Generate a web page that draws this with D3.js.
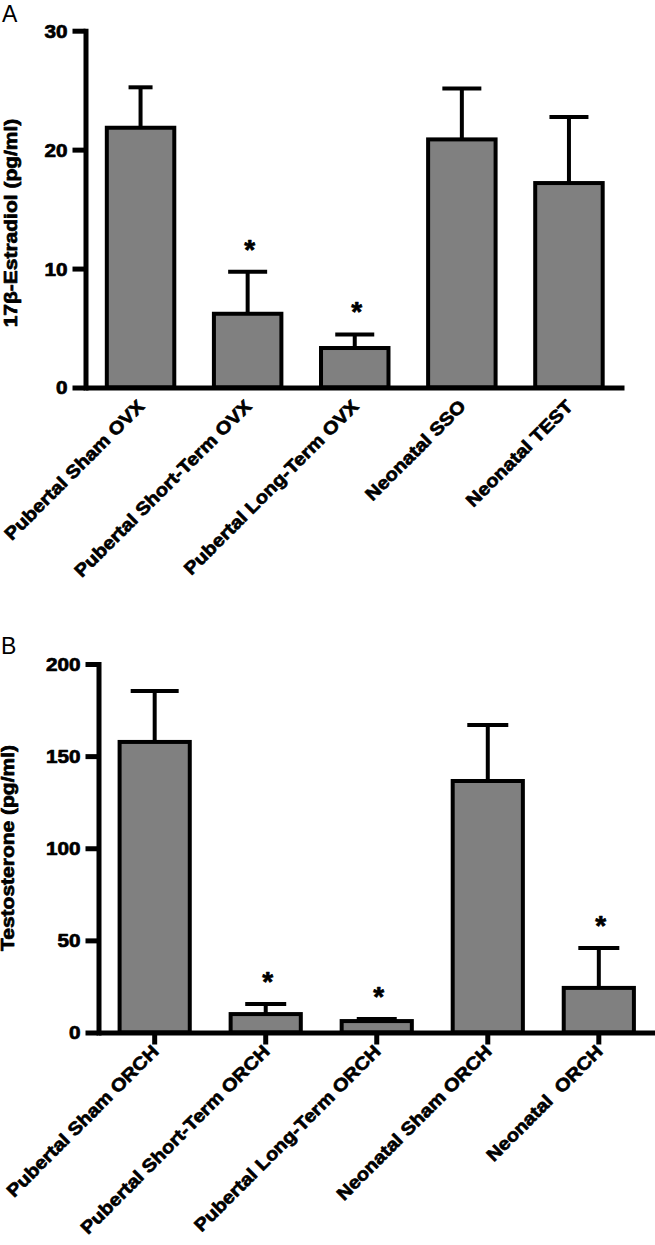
<!DOCTYPE html>
<html>
<head>
<meta charset="utf-8">
<script src="https://cdn.jsdelivr.net/npm/d3@7"></script>
<style>
  html, body { margin: 0; padding: 0; background: #fff; }
  svg { display: block; }
  text { font-family: "Liberation Sans", Arial, Helvetica, sans-serif; }
</style>
</head>
<body>
<svg id="chart" width="655" height="1245"></svg>
<script>
// ---------- Data ----------
const categoriesA = ["Pubertal Sham OVX", "Pubertal Short-Term OVX", "Pubertal Long-Term OVX", "Neonatal SSO", "Neonatal TEST"];
const meansA = [21.84, 6.2, 3.32, 20.86, 17.19];
const errorsA = [3.4, 3.53, 1.14, 4.29, 5.55];
const significantA = [false, true, true, false, false];
const ticksA = [0, 10, 20, 30];
const titleA = "17β-Estradiol (pg/ml)";

const categoriesB = ["Pubertal Sham ORCH", "Pubertal Short-Term ORCH", "Pubertal Long-Term ORCH", "Neonatal Sham ORCH", "Neonatal  ORCH"];
const meansB = [157.7, 10.0, 6.2, 136.5, 24.2];
const errorsB = [27.6, 5.5, 1.1, 30.4, 21.7];
const significantB = [false, true, true, false, true];
const ticksB = [0, 50, 100, 150, 200];
const titleB = "Testosterone (pg/ml)";

// ---------- Layout / style ----------
const FONT = '"Liberation Sans", Arial, Helvetica, sans-serif';
const panels = [
  {
    letter: "A", letterX: 2, letterY: 22,
    cats: categoriesA, means: meansA, errs: errorsA, sig: significantA, ticks: ticksA, title: titleA,
    yMax: 30, yTopPx: 30.7, yZeroPx: 387.5,
    axisX: 85.5, xEnd: 624, padIn: 0.37, padOut: 0.199,
    xTick: 0, capW: [24, 39, 39, 39, 39],
    titleX: 17, titleY: 223
  },
  {
    letter: "B", letterX: 1, letterY: 654,
    cats: categoriesB, means: meansB, errs: errorsB, sig: significantB, ticks: ticksB, title: titleB,
    yMax: 200, yTopPx: 664, yZeroPx: 1032.5,
    axisX: 98.5, xEnd: 655, padIn: 0.368, padOut: 0.19,
    xTick: 12, capW: [48, 41, 40, 41, 41],
    titleX: 14, titleY: 848
  }
];

const svg = d3.select("#chart");

function heavy(sel, size) {
  sel.attr("font-family", FONT).attr("font-weight", "bold").attr("font-size", size)
    .attr("fill", "#000").attr("stroke", "#000").attr("stroke-width", 0.7)
    .attr("stroke-linejoin", "round");
}

panels.forEach(p => {
  const g = svg.append("g");

  const y = d3.scaleLinear().domain([0, p.yMax]).range([p.yZeroPx, p.yTopPx]);
  const x = d3.scaleBand().domain(p.cats).range([p.axisX, p.xEnd])
    .paddingInner(p.padIn).paddingOuter(p.padOut);

  const data = p.cats.map((c, i) => ({ c, m: p.means[i], e: p.errs[i], s: p.sig[i], cw: p.capW[i] }));

  // bars
  g.selectAll("rect.bar").data(data).enter().append("rect")
    .attr("class", "bar")
    .attr("x", d => x(d.c))
    .attr("width", x.bandwidth())
    .attr("y", d => y(d.m))
    .attr("height", d => y(0) - y(d.m))
    .attr("fill", "#808080")
    .attr("stroke", "#000")
    .attr("stroke-width", 4);

  // error bars (upper only)
  const eb = g.selectAll("g.err").data(data).enter().append("g").attr("class", "err");
  eb.append("line")
    .attr("x1", d => x(d.c) + x.bandwidth() / 2)
    .attr("x2", d => x(d.c) + x.bandwidth() / 2)
    .attr("y1", d => y(d.m))
    .attr("y2", d => y(d.m + d.e))
    .attr("stroke", "#000").attr("stroke-width", 4);
  eb.append("line")
    .attr("x1", d => x(d.c) + x.bandwidth() / 2 - d.cw / 2)
    .attr("x2", d => x(d.c) + x.bandwidth() / 2 + d.cw / 2)
    .attr("y1", d => y(d.m + d.e))
    .attr("y2", d => y(d.m + d.e))
    .attr("stroke", "#000").attr("stroke-width", 4);

  // significance asterisks
  g.selectAll("text.star").data(data.filter(d => d.s)).enter().append("text")
    .attr("class", "star")
    .attr("x", d => x(d.c) + x.bandwidth() / 2 + 2)
    .attr("y", d => y(d.m + d.e) - 13)
    .attr("text-anchor", "middle")
    .call(heavy, 28)
    .text("*");

  // y axis
  const yAxis = d3.axisLeft(y).tickValues(p.ticks).tickFormat(d3.format("d"))
    .tickSize(13).tickSizeOuter(0).tickPadding(0);
  const ya = g.append("g").attr("transform", `translate(${p.axisX},0)`).call(yAxis);
  ya.select(".domain").attr("stroke-width", 5).attr("stroke-linecap", "square");
  ya.selectAll(".tick line").attr("stroke-width", 5);
  ya.selectAll(".tick text")
    .attr("x", 0).attr("dy", "0.36em")
    .attr("transform", "translate(-18,0) scale(1.15,1)")
    .call(heavy, 18);

  // x axis
  const xAxis = d3.axisBottom(x).tickSize(p.xTick).tickSizeOuter(0).tickPadding(0);
  const xa = g.append("g").attr("transform", `translate(0,${p.yZeroPx})`).call(xAxis);
  xa.select(".domain").attr("stroke-width", 5).attr("stroke-linecap", "butt");
  xa.selectAll(".tick line").attr("stroke-width", 5);
  xa.selectAll(".tick text")
    .attr("x", 0).attr("y", 0).attr("dy", 0)
    .attr("text-anchor", "end")
    .attr("transform", "translate(5,20) rotate(-45) scale(1.12,1)")
    .call(heavy, 18)
    .style("white-space", "pre");

  // y title
  g.append("text")
    .attr("transform", `translate(${p.titleX},${p.titleY}) rotate(-90) scale(1.2,1)`)
    .attr("text-anchor", "middle")
    .call(heavy, 17.5)
    .text(p.title);

  // panel letter
  g.append("text")
    .attr("x", p.letterX).attr("y", p.letterY)
    .attr("font-family", FONT).attr("font-size", 23)
    .text(p.letter);
});
</script>
</body>
</html>
